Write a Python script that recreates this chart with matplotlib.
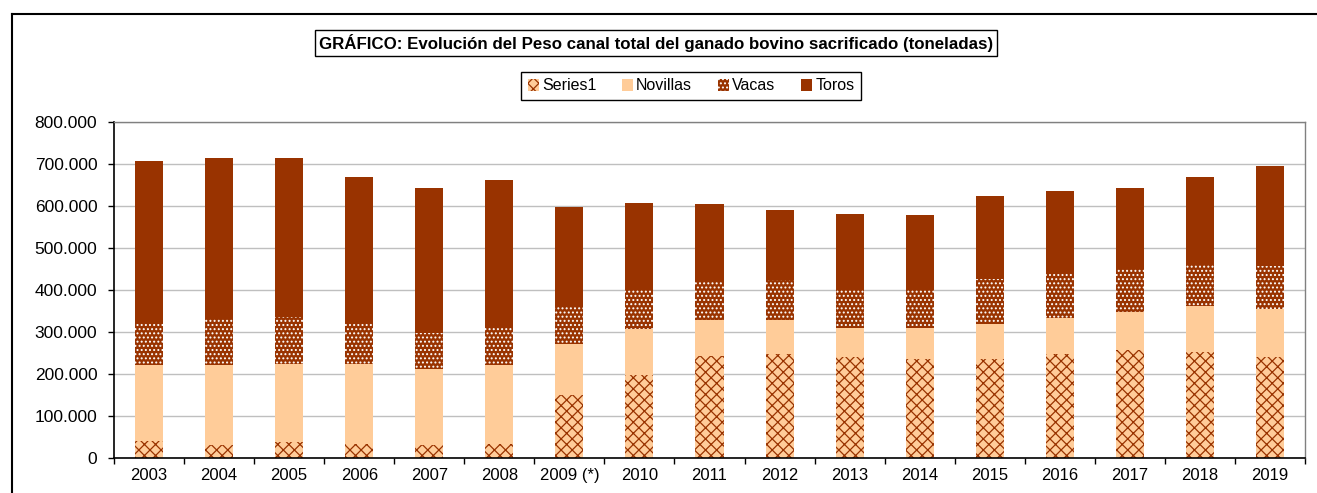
import numpy as np
import matplotlib
matplotlib.use("Agg")
import matplotlib.pyplot as plt
from matplotlib.ticker import FuncFormatter, FixedLocator
from matplotlib.lines import Line2D

plt.rcParams['font.family'] = ['Liberation Sans', 'DejaVu Sans']
plt.rcParams['hatch.linewidth'] = 0.9

# values in tonnes
years = ['2003', '2004', '2005', '2006', '2007', '2008', '2009 (*)', '2010', '2011',
         '2012', '2013', '2014', '2015', '2016', '2017', '2018', '2019']
series1 = [41000, 32000, 37000, 34000, 30000, 33000, 149000, 198000, 242000,
           248000, 240000, 236000, 236000, 248000, 256000, 252000, 240000]
novillas = [180000, 189000, 188000, 191000, 183000, 188000, 122000, 109000, 86000,
            81000, 69000, 74000, 84000, 86000, 92000, 109000, 115000]
vacas = [102000, 110000, 111000, 98000, 84000, 90000, 88000, 93000, 93000,
         96000, 91000, 90000, 106000, 109000, 104000, 102000, 102000]
toros = [383000, 383000, 378000, 347000, 345000, 350000, 239000, 206000, 183000,
         166000, 180000, 178000, 199000, 193000, 191000, 205000, 238000]

W, H = 1317, 493
fig = plt.figure(figsize=(W / 100, H / 100), dpi=100)
ax = fig.add_axes([114 / W, 1 - 458 / H, (1305 - 114) / W, (458 - 122) / H])

dark = '#993300'
light = '#FFCC99'
x = np.arange(len(years))
bw = 0.4

s1 = np.array(series1)
nv = np.array(novillas)
vc = np.array(vacas)
tr = np.array(toros)

b1 = ax.bar(x, s1, bw, color=light, edgecolor=dark, hatch='xxx', linewidth=0,
            label='Series1', zorder=2)
b2 = ax.bar(x, nv, bw, bottom=s1, color=light, linewidth=0, label='Novillas', zorder=2)
b3 = ax.bar(x, vc, bw, bottom=s1 + nv, color=dark, edgecolor='white', hatch='....',
            linewidth=0, label='Vacas', zorder=2)
b4 = ax.bar(x, tr, bw, bottom=s1 + nv + vc, color=dark, linewidth=0, label='Toros', zorder=2)

ax.set_xlim(-0.5, len(years) - 0.5)
ax.set_ylim(0, 800000)
ax.set_yticks(np.arange(0, 800001, 100000))
ax.yaxis.set_major_formatter(FuncFormatter(lambda v, p: f'{int(v):,}'.replace(',', '.')))
ax.yaxis.grid(True, color='#BFBFBF', linewidth=1.0, zorder=0)
ax.set_axisbelow(True)

ax.xaxis.set_major_locator(FixedLocator(np.arange(-0.5, len(years), 1)))
ax.xaxis.set_major_formatter(FuncFormatter(lambda v, p: ''))
ax.set_xticks(x, minor=True)
ax.set_xticklabels(years, minor=True)
ax.tick_params(axis='x', which='major', direction='out', length=4, width=1, color='black')
ax.tick_params(axis='x', which='minor', length=0, pad=7, labelsize=12)
ax.tick_params(axis='y', direction='out', length=4, width=1, labelsize=12.5, pad=8)

for side in ['left', 'bottom']:
    ax.spines[side].set_color('black')
    ax.spines[side].set_linewidth(1.2)
for side in ['top', 'right']:
    ax.spines[side].set_color('#808080')
    ax.spines[side].set_linewidth(1.0)

# outer chart frame
fig.add_artist(Line2D([12 / W, 12 / W], [1 - 14 / H, 0], transform=fig.transFigure,
                      color='black', linewidth=1.5))
fig.add_artist(Line2D([12 / W, 1], [1 - 14 / H, 1 - 14 / H], transform=fig.transFigure,
                      color='black', linewidth=1.5))

fig.text(656 / W, 1 - 43 / H,
         'GRÁFICO: Evolución del Peso canal total del ganado bovino sacrificado (toneladas)',
         ha='center', va='center', fontsize=12.2, fontweight='bold',
         bbox=dict(boxstyle='square,pad=0.25', facecolor='white', edgecolor='black', linewidth=1))

leg = ax.legend(handles=[b1, b2, b3, b4], loc='center', bbox_to_anchor=(691 / W, 1 - 86 / H),
                bbox_transform=fig.transFigure, ncol=4, fontsize=11.5, frameon=True,
                fancybox=False, edgecolor='black', framealpha=1, handlelength=0.7,
                handleheight=0.7, handletextpad=0.2, columnspacing=1.6, borderpad=0.4)
leg.get_frame().set_linewidth(1.0)

fig.savefig('out.png', dpi=100)
